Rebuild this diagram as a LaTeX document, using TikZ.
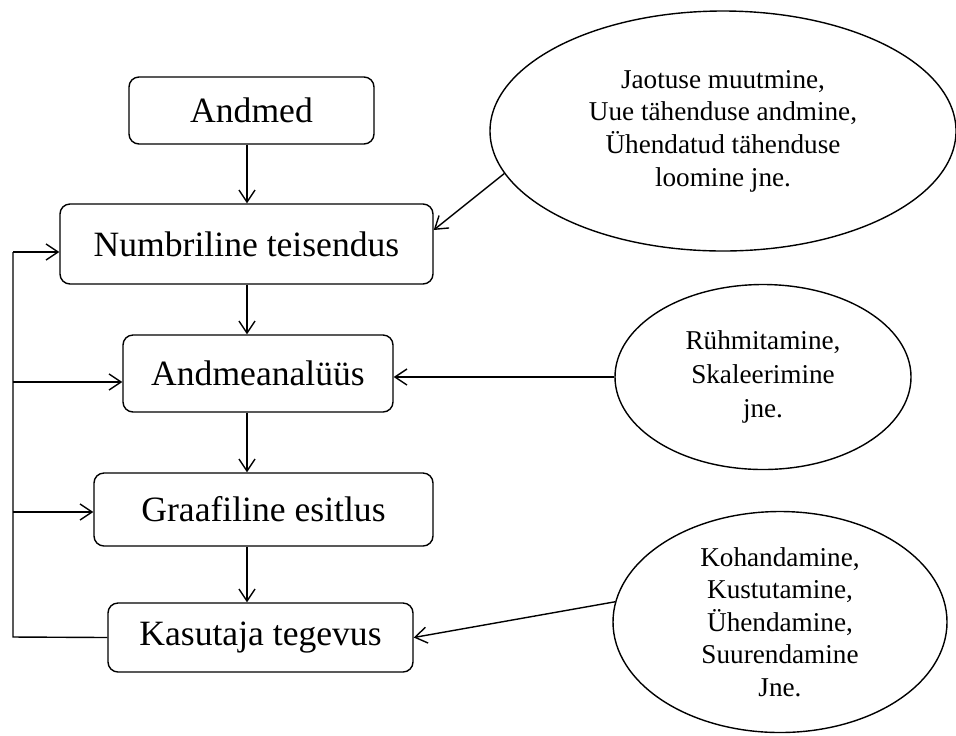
\documentclass[tikz,border=0pt]{standalone}
\usepackage{fontspec}
\setmainfont{Liberation Serif}
\usetikzlibrary{arrows.meta,shapes.geometric}
\begin{document}
\begin{tikzpicture}[x=0.5pt, y=-0.5pt, line width=0.7pt,
    >={Straight Barb[length=6pt,width=8pt]},
    box/.style={draw, rounded corners=5pt, inner sep=0pt,
      font=\fontsize{17.8}{21}\selectfont},
    bubble/.style={draw, ellipse, inner sep=0pt, align=center,
      font=\fontsize{13.6}{16.3}\selectfont}]
    \useasboundingbox (0,0) rectangle (956,735);
    % 箱
    \node[box, minimum width=122.5pt, minimum height=33.5pt] (andmed) at (251.5,110.5) {Andmed};
    \node[box, minimum width=186.5pt, minimum height=40pt] (numbr) at (246.5,244) {Numbriline teisendus};
    \node[box, minimum width=135pt, minimum height=38.5pt] (analuus) at (258,373.5) {Andmeanalüüs};
    \node[box, minimum width=169.5pt, minimum height=36.5pt] (graaf) at (263.5,509.5) {Graafiline esitlus};
    \node[box, minimum width=152.5pt, minimum height=34.5pt] (kasut) at (260.5,637.5) {Kasutaja tegevus};
    % 楕円
    \node[bubble, minimum width=233pt, minimum height=120pt] (ell1) at (723,131)
      {Jaotuse muutmine,\\Uue tähenduse andmine,\\Ühendatud tähenduse\\loomine jne.};
    \node[bubble, minimum width=148pt, minimum height=92.5pt, font=\fontsize{13.6}{17}\selectfont] (ell2) at (763,377)
      {Rühmitamine,\\Skaleerimine\\jne.};
    \node[bubble, minimum width=167pt, minimum height=110.5pt] (ell3) at (780,622)
      {Kohandamine,\\Kustutamine,\\Ühendamine,\\Suurendamine\\Jne.};
    % 縦の矢印
    \coordinate (spine) at (247,0);
    \foreach \a/\b in {andmed/numbr, numbr/analuus, analuus/graaf, graaf/kasut}
      \draw[->] (spine |- \a.south) -- (spine |- \b.north);
    % 戻りの線
    \coordinate (loopB) at (13,637);
    \coordinate (loopT) at (13,252);
    \coordinate (loopA) at (13,382);
    \coordinate (loopG) at (13,512);
    \draw (kasut.west) -- (loopB) -- (loopT);
    \draw[->] (loopT) -- (loopT -| numbr.west);
    \draw[->] (loopA) -- (loopA -| analuus.west);
    \draw[->] (loopG) -- (loopG -| graaf.west);
    % 楕円からの矢印
    \draw[->] (ell1.191) -- ([yshift=7pt]numbr.east);
    \draw[->] (ell2.west) -- (ell2.west -| analuus.east);
    \draw[->] (ell3.173) -- (kasut.east);
\end{tikzpicture}
\end{document}
